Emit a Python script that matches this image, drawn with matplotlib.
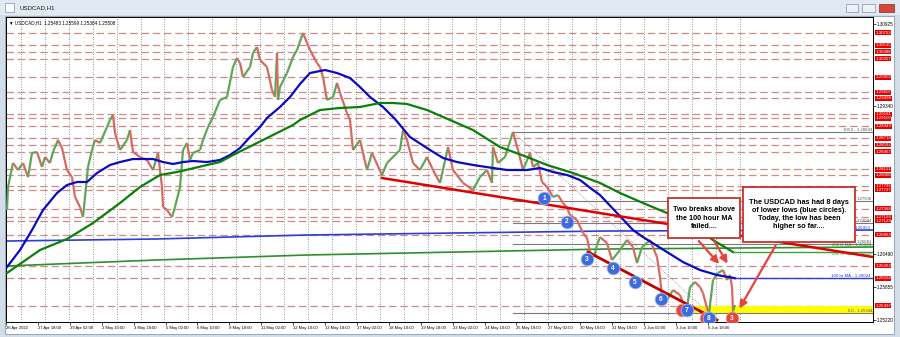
import numpy as np
import matplotlib.pyplot as plt
from matplotlib.collections import LineCollection
from matplotlib.patches import Rectangle

plt.rcParams['font.family'] = ['Liberation Sans', 'DejaVu Sans']

# hourly USDCAD path, turning points (bar number, price)
path_bar = [1, 2, 7, 12, 17, 22, 26, 31, 36, 39,
            44, 47, 52, 56, 61, 66, 69, 74, 77, 79,
            82, 86, 89, 94, 101, 104, 107, 109, 114, 121,
            124, 127, 134, 141, 147, 152, 156, 157, 161, 166,
            169, 174, 177, 181, 184, 187, 194, 197, 202, 207,
            214, 221, 227, 231, 234, 237, 244, 247, 251, 254,
            261, 266, 269, 271, 272, 274, 281, 287, 291, 297,
            301, 304, 311, 314, 317, 321, 327, 331, 334, 341,
            344, 347, 354, 361, 366, 376, 381, 394, 397, 401,
            407, 414, 421, 427, 434, 441, 442, 447, 457, 467,
            474, 481, 486, 487, 492, 499, 507, 512, 517, 524,
            527, 532, 536, 541, 547, 552, 557, 561, 564, 571,
            577, 581, 584, 588, 591, 594, 601, 606, 614, 621,
            627, 631, 636, 641, 644, 651, 654, 656, 661, 667,
            674, 677, 681, 684, 689, 694, 697, 701, 703, 707,
            712, 717, 721, 724, 726, 727, 729]
path_px = [1.27339, 1.27782, 1.28245, 1.28110, 1.28245, 1.27975, 1.28438, 1.28457, 1.28168, 1.28361,
           1.28245, 1.28457, 1.28689, 1.28534, 1.28110, 1.27975, 1.27590, 1.27397, 1.27204, 1.27590,
           1.28168, 1.28496, 1.28689, 1.28631, 1.28939, 1.29074, 1.29171, 1.28824, 1.28496, 1.28689,
           1.28881, 1.28457, 1.28361, 1.28303, 1.28110, 1.28438, 1.27782, 1.27397, 1.27339, 1.27204,
           1.27397, 1.27782, 1.28496, 1.28631, 1.28303, 1.28438, 1.28496, 1.28689, 1.28939, 1.29132,
           1.29460, 1.29518, 1.30096, 1.30270, 1.30173, 1.29903, 1.30096, 1.30366, 1.30482, 1.30231,
           1.30096, 1.29653, 1.29518, 1.30366, 1.29460, 1.29710, 1.29980, 1.30289, 1.30424, 1.30752,
           1.30559, 1.30424, 1.30173, 1.30096, 1.29903, 1.29460, 1.29518, 1.29788, 1.29595, 1.29209,
           1.29074, 1.28496, 1.28689, 1.28110, 1.28438, 1.28014, 1.28245, 1.28496, 1.28881, 1.28689,
           1.28245, 1.28110, 1.28361, 1.28110, 1.27860, 1.28457, 1.28554, 1.28110, 1.27860, 1.27725,
           1.27975, 1.28110, 1.27860, 1.28554, 1.28245, 1.28361, 1.28843, 1.28496, 1.28110, 1.28438,
           1.28168, 1.28245, 1.27879, 1.27782, 1.27590, 1.27628, 1.27474, 1.27378, 1.27243, 1.27146,
           1.26896, 1.26799, 1.26529, 1.26433, 1.26664, 1.26818, 1.26703, 1.26375, 1.26568, 1.26761,
           1.26626, 1.26317, 1.26626, 1.26703, 1.26761, 1.26433, 1.26047, 1.25662, 1.25604, 1.25797,
           1.25700, 1.25546, 1.25450, 1.25854, 1.25951, 1.25854, 1.25739, 1.25450, 1.25344, 1.25989,
           1.26124, 1.26182, 1.25989, 1.26086, 1.25854, 1.25384, 1.25508]

# 100 hour MA (blue)
ma100_bar = [1, 14, 26, 37, 51, 61, 71, 81, 91, 104,
             114, 127, 147, 157, 167, 177, 187, 201, 214, 224,
             234, 244, 254, 261, 274, 284, 294, 304, 319, 331,
             344, 354, 364, 377, 389, 404, 424, 437, 451, 467,
             487, 501, 521, 534, 547, 561, 574, 587, 594, 611,
             627, 637, 661, 677, 694, 711, 729]
ma100_val = [1.26240, 1.26568, 1.26953, 1.27339, 1.27667, 1.27821, 1.27879, 1.27879, 1.28052, 1.28207,
             1.28264, 1.28322, 1.28322, 1.28264, 1.28226, 1.28264, 1.28284, 1.28264, 1.28303, 1.28399,
             1.28534, 1.28746, 1.28939, 1.29113, 1.29325, 1.29518, 1.29768, 1.29980, 1.30038, 1.29980,
             1.29884, 1.29710, 1.29518, 1.29325, 1.29094, 1.28746, 1.28496, 1.28342, 1.28264, 1.28207,
             1.28149, 1.28110, 1.28110, 1.28149, 1.28072, 1.28014, 1.27917, 1.27725, 1.27628, 1.27281,
             1.26953, 1.26818, 1.26529, 1.26336, 1.26182, 1.26086, 1.26024]

# 200 hour MA (green)
ma200_bar = [1, 34, 61, 87, 114, 134, 154, 171, 184, 201,
             214, 227, 247, 267, 287, 294, 314, 334, 354, 374,
             387, 401, 421, 444, 467, 494, 521, 541, 567, 594,
             614, 637, 661, 684, 707, 727]
ma200_val = [1.26124, 1.26568, 1.26780, 1.27088, 1.27474, 1.27782, 1.28014, 1.28072, 1.28129, 1.28207,
             1.28264, 1.28399, 1.28592, 1.28785, 1.28978, 1.29074, 1.29267, 1.29306, 1.29325, 1.29402,
             1.29402, 1.29383, 1.29267, 1.29074, 1.28881, 1.28554, 1.28361, 1.28207, 1.28052, 1.27860,
             1.27667, 1.27474, 1.27281, 1.27050, 1.26761, 1.26529]

# daily MAs, the long flat lines
dma_bar = [0, 150, 300, 450, 600, 867]
dma100_val = [1.26741, 1.26780, 1.26857, 1.26896, 1.26934, 1.26953]
dma200_val = [1.26259, 1.26375, 1.26471, 1.26529, 1.26587, 1.26626]

# horizontal levels with red price tags
levels = [1.30753, 1.30515, 1.30388, 1.30257, 1.29902, 1.29607, 1.29496, 1.29181, 1.29107, 1.28949,
          1.28718, 1.28592, 1.28467, 1.28121, 1.28008, 1.27796, 1.27727, 1.27368, 1.27196, 1.27129,
          1.26863, 1.26263, 1.26024, 1.25497]

# fibonacci retracement
fib_high, fib_low = 1.28843, 1.25344
fib_high_bar, fib_low_bar = 507, 703
fib_pcts = [0.0, 38.2, 50.0, 61.8, 100.0]

# trend lines
upper_tl_bar = [376, 867]
upper_tl_val = [1.27956, 1.26433]
lower_tl_bar = [582, 711]
lower_tl_val = [1.26529, 1.25219]

# lower lows (blue circles), today's low (red)
low_bar = [538, 561, 581, 607, 629, 655, 681, 703]
low_val = [1.27570, 1.27108, 1.26394, 1.26221, 1.25951, 1.25623, 1.25411, 1.25257]
red_bar = [676, 700, 726]
red_val = [1.25411, 1.25257, 1.25257]

ytick_labels = ['1.30925', '1.30610', '1.30295', '1.29975', '1.29660', '1.29340', '1.29025',
                '1.28705', '1.28390', '1.28070', '1.27755', '1.27440', '1.27120', '1.26805',
                '1.26490', '1.26175', '1.25855', '1.25540', '1.25220']
date_labels = ['26 Apr 2022', '27 Apr 18:00', '29 Apr 02:00', '2 May 10:00', '3 May 18:00',
               '5 May 02:00', '6 May 10:00', '9 May 18:00', '11 May 02:00', '12 May 10:00',
               '13 May 18:00', '17 May 02:00', '18 May 10:00', '19 May 18:00', '23 May 02:00',
               '24 May 10:00', '25 May 18:00', '27 May 02:00', '30 May 10:00', '31 May 18:00',
               '2 Jun 02:00', '3 Jun 10:00', '6 Jun 18:00']

W, H = 900, 337
fig = plt.figure(figsize=(9, 3.37), dpi=100, facecolor='#d3dde8')

def frect(x0, y0, x1, y1, **kw):
    # rectangle in pixel coords from the top left of the figure, kept under the axes
    fig.patches.append(Rectangle((x0 / W, 1 - y1 / H), (x1 - x0) / W, (y1 - y0) / H,
                                 transform=fig.transFigure, zorder=-5, **kw))

#window chrome
frect(0, 0, 900, 15, fc='#e1e9f2', ec='none')
frect(5, 3, 14, 12, fc='white', ec='#7a93ad', lw=0.5)
fig.text(19 / W, 1 - 8 / H, 'USDCAD,H1', fontsize=4.4, va='center', color='#1a1a1a')
frect(846, 4, 858, 12, fc='#eef2f7', ec='#8295aa', lw=0.5)
frect(862, 4, 875, 12, fc='#eef2f7', ec='#8295aa', lw=0.5)
frect(879, 4, 894, 12, fc='#d4473d', ec='#8a2b25', lw=0.5)
frect(5, 16, 894, 334, fc='white', ec='#8a9bb0', lw=0.6)

ax = fig.add_axes([6 / W, 15 / H, 867 / W, 305 / H])
ax.set_zorder(2)
ax.set_xlim(0, 867)
ax.set_ylim(1.25180, 1.31060)

#vertical dotted grid
for gx in np.arange(14.7, 736, 23.96):
    ax.axvline(gx, color='#6f6f6f', lw=0.6, ls=(0, (1, 2)), zorder=0.5)

#red dashed levels
for p in levels:
    ax.axhline(p, color='#cf8a8a', lw=0.9, ls=(0, (6, 3)), zorder=1)

#yellow zone
ax.add_patch(Rectangle((672, fib_low), 867 - 672, 1.25497 - fib_low, fc='#ffff00', ec='none', zorder=1.5))

#daily MAs
ax.plot(dma_bar, dma100_val, color='#2a3fd6', lw=1.2, zorder=2)
ax.plot(dma_bar, dma200_val, color='#2f8f2f', lw=1.2, zorder=2)

#fib levels, the middle labels only show their price to the right of the comment box
for pct in fib_pcts:
    lv = fib_low + (fib_high - fib_low) * pct / 100
    ax.plot([fib_high_bar, 867], [lv, lv], color='#7a7a7a', lw=0.8, zorder=2)
    txt = f'{pct:.1f} - {lv:.5f}' if pct in (0.0, 100.0) else f'{lv:.5f}'
    ax.text(866, lv, txt, fontsize=3.1, color='#555555', ha='right', va='bottom', zorder=2)
ax.plot([fib_high_bar, fib_low_bar], [fib_high, fib_low], color='#8a8a8a', lw=0.6,
        ls=(0, (1, 1.5)), zorder=2)

#price path coloured like candles
pts = np.column_stack([path_bar, path_px])
segs = np.stack([pts[:-1], pts[1:]], axis=1)
cols = ['#5ea75a' if b > a else '#d66a60' for a, b in zip(path_px[:-1], path_px[1:])]
ax.add_collection(LineCollection(segs, colors=cols, linewidths=1.6, zorder=3))

#hourly MAs
ax.plot(ma100_bar, ma100_val, color='#0a0ac0', lw=1.6, zorder=4)
ax.plot(ma200_bar, ma200_val, color='#0a800a', lw=1.6, zorder=4)
ax.plot([ma100_bar[-1], 867], [ma100_val[-1]] * 2, color='#2a3fd6', lw=1.0, zorder=4)
ax.plot([ma200_bar[-1], 867], [ma200_val[-1]] * 2, color='#3aa03a', lw=1.0, zorder=4)
ax.text(865, ma100_val[-1], f'100 hr MA - {ma100_val[-1]:.5f}', fontsize=3.2, color='#2a3fd6',
        ha='right', va='bottom', zorder=4)
ax.text(865, ma200_val[-1], f'200 hr MA - {ma200_val[-1]:.5f}', fontsize=3.2, color='#2f8f2f',
        ha='right', va='top', zorder=4)
ax.text(865, dma200_val[-1], f'200 D MA - {dma200_val[-1]:.5f}', fontsize=3.2, color='#2f8f2f',
        ha='right', va='bottom', zorder=4)
ax.text(865, dma100_val[-1], f'{dma100_val[-1]:.5f}', fontsize=3.2, color='#2a3fd6',
        ha='right', va='bottom', zorder=4)

#trend lines
ax.plot(upper_tl_bar, upper_tl_val, color='#e00000', lw=1.8, zorder=4.5)
ax.plot(lower_tl_bar, lower_tl_val, color='#c00000', lw=2.0, zorder=4.5)

#circles
ax.scatter(red_bar, red_val, s=85, c='#e2453c', edgecolors='#f3a39b', linewidths=0.6, zorder=5)
ax.scatter(low_bar, low_val, s=85, c='#3f6be0', edgecolors='#a9bdf2', linewidths=0.6, zorder=5.5)
for i, (b, v) in enumerate(zip(low_bar, low_val)):
    ax.text(b, v, str(i + 1), fontsize=4.8, color='white', fontweight='bold',
            ha='center', va='center', zorder=6)
ax.text(red_bar[-1], red_val[-1], '3', fontsize=4.8, color='white', fontweight='bold',
        ha='center', va='center', zorder=6)

#comment boxes
ax.add_patch(Rectangle((662, 1.26799), 72, 1.27570 - 1.26799, fc='white', ec='#c9302c', lw=1.3, zorder=7))
ax.text(698, (1.26799 + 1.27570) / 2, 'Two breaks above\nthe 100 hour MA\nfailed....',
        fontsize=5.2, fontweight='bold', ha='center', va='center', linespacing=1.25, zorder=8)
ax.add_patch(Rectangle((737, 1.26722), 112, 1.27782 - 1.26722, fc='white', ec='#c9302c', lw=1.3, zorder=7))
ax.text(793, (1.26722 + 1.27782) / 2,
        'The USDCAD has had 8 days\nof lower lows (blue circles).\nToday, the low has been\nhigher so far....',
        fontsize=5.2, fontweight='bold', ha='center', va='center', linespacing=1.25, zorder=8)

arrow = dict(arrowstyle='-|>,head_width=0.22,head_length=0.45', color='#e8423c', lw=1.6)
ax.annotate('', xy=(715, 1.26259), xytext=(691, 1.26780), arrowprops=arrow, zorder=8)
ax.annotate('', xy=(723, 1.26259), xytext=(707, 1.26780), arrowprops=arrow, zorder=8)
ax.annotate('', xy=(732, 1.25392), xytext=(771, 1.26703), arrowprops=arrow, zorder=8)

#header line
ax.text(0.003, 0.988, '\u25bc USDCAD,H1  1.25483 1.25599 1.25384 1.25508', transform=ax.transAxes,
        fontsize=3.3, va='top', ha='left', zorder=9)

#axes
for s in ax.spines.values():
    s.set_linewidth(0.7)
    s.set_color('black')
ax.yaxis.tick_right()
# like MT4, a black price label is hidden where a red price tag sits
span = 1.31060 - 1.25180
keep = [t for t in ytick_labels if min(abs(float(t) - p) for p in levels) > span * 6 / 305]
ax.set_yticks([float(t) for t in keep])
ax.set_yticklabels(keep)
ax.tick_params(axis='y', length=2, width=0.5, pad=1, labelsize=3.3)
ax.set_xticks(np.arange(len(date_labels)) * 31.9)
ax.set_xticklabels(date_labels)
for lbl in ax.get_xticklabels():
    lbl.set_ha('left')
ax.tick_params(axis='x', length=2, width=0.5, pad=1.2, labelsize=3.0)

for p in levels:
    ax.text(1.0025, p, f'{p:.5f}', transform=ax.get_yaxis_transform(), fontsize=3.2, color='white',
            ha='left', va='center', clip_on=False, zorder=10,
            bbox=dict(boxstyle='square,pad=0.1', fc='#e60000', ec='none'))

plt.savefig('out.png', dpi=100, facecolor=fig.get_facecolor())
